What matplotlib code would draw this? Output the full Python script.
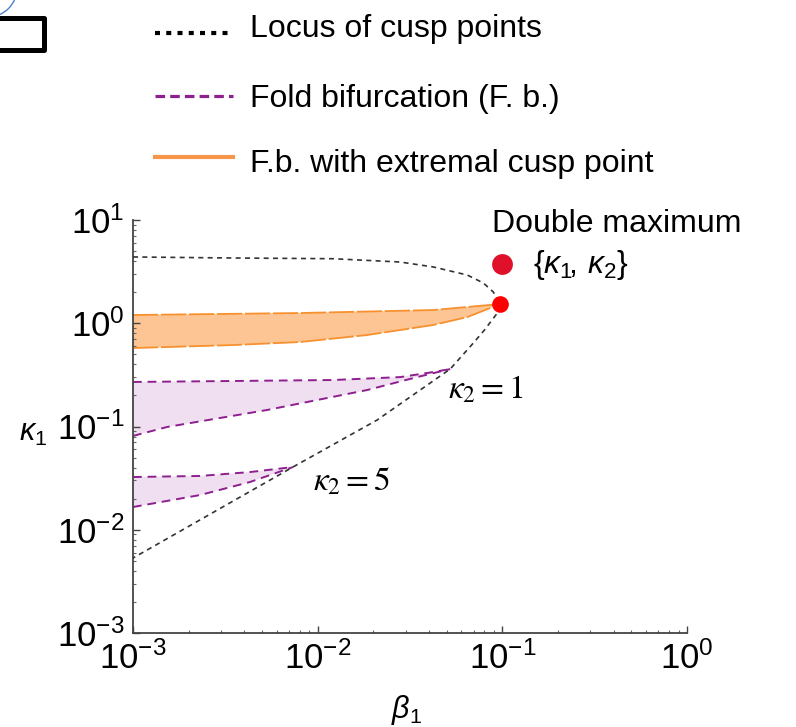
import numpy as np
import matplotlib
matplotlib.use("Agg")
import matplotlib.pyplot as plt
from matplotlib.lines import Line2D
from matplotlib.patches import Rectangle, Arc
from matplotlib.transforms import IdentityTransform
import matplotlib.ticker as mticker

plt.rcParams['font.family'] = ['Liberation Sans', 'DejaVu Sans']
plt.rcParams['mathtext.fontset'] = 'custom'
plt.rcParams['mathtext.rm'] = 'Liberation Sans'
plt.rcParams['mathtext.it'] = 'Liberation Sans:italic'
plt.rcParams['mathtext.bf'] = 'Liberation Sans:bold'

# ---------------- data ----------------
# locus of cusp points (upper branch -> tip -> lower branch)
locus_beta = [0.001, 0.00348, 0.01213, 0.0280, 0.0423, 0.0646, 0.0789, 0.0893,
              0.0975, 0.0940, 0.0800, 0.0697, 0.0522, 0.0210, 0.00736, 0.001]
locus_kappa = [4.385, 4.285, 4.217, 3.917, 3.508, 2.931, 2.455, 2.009,
               1.535, 1.256, 0.860, 0.644, 0.360, 0.1156, 0.0406, 0.00532]

# F.b. with extremal cusp point (orange band)
orange_up_beta = [0.001, 0.00804, 0.0423, 0.0975]
orange_up_kappa = [1.202, 1.256, 1.343, 1.535]
orange_lo_beta = [0.001, 0.00348, 0.00804, 0.01853, 0.0423, 0.0646, 0.0975]
orange_lo_kappa = [0.575, 0.615, 0.658, 0.769, 0.962, 1.148, 1.535]

# Fold bifurcation, kappa2 = 1
k1_up_beta = [0.001, 0.01213, 0.0280, 0.0423, 0.0522]
k1_up_kappa = [0.270, 0.282, 0.301, 0.337, 0.360]
k1_lo_beta = [0.001, 0.001528, 0.00532, 0.01853, 0.0346, 0.0522]
k1_lo_kappa = [0.081, 0.0989, 0.1445, 0.2255, 0.301, 0.360]

# Fold bifurcation, kappa2 = 5
k5_up_beta = [0.001, 0.00231, 0.0043, 0.00736]
k5_up_kappa = [0.0324, 0.0332, 0.0362, 0.0405]
k5_lo_beta = [0.001, 0.00231, 0.0043, 0.00736]
k5_lo_kappa = [0.0166, 0.0217, 0.0290, 0.0405]

# double maximum point
dm_beta = [0.0975]
dm_kappa = [1.535]

x_ticks = [1e-3, 1e-2, 1e-1, 1e0]
y_ticks = [1e-3, 1e-2, 1e-1, 1e0, 1e1]

# ---------------- figure ----------------
W, H = 796, 727
fig = plt.figure(figsize=(W / 100, H / 100), dpi=100)
ax = fig.add_axes([133 / W, 1 - 633 / H, (687 - 133) / W, (633 - 220) / H])
ax.set_xscale('log')
ax.set_yscale('log')
ax.set_xlim(1e-3, 1e0)
ax.set_ylim(1e-3, 1e1)

orange_fill = '#fdc593'
orange_line = '#f7912f'
purple_fill = '#efdff0'
purple_line = '#8e1f8e'


def fill_band(bu, ku, bl, kl, color):
    bx = np.concatenate([np.log10(bu), np.log10(bl)[::-1]])
    ky = np.concatenate([np.log10(ku), np.log10(kl)[::-1]])
    ax.fill(10 ** bx, 10 ** ky, color=color, lw=0, zorder=1)


fill_band(orange_up_beta, orange_up_kappa, orange_lo_beta, orange_lo_kappa, orange_fill)
fill_band(k1_up_beta, k1_up_kappa, k1_lo_beta, k1_lo_kappa, purple_fill)
fill_band(k5_up_beta, k5_up_kappa, k5_lo_beta, k5_lo_kappa, purple_fill)

for b, k in [(orange_up_beta, orange_up_kappa), (orange_lo_beta, orange_lo_kappa)]:
    ax.plot(b, k, color=orange_line, lw=1.3, dashes=(14, 1.5), zorder=2)
for b, k in [(k1_up_beta, k1_up_kappa), (k1_lo_beta, k1_lo_kappa),
             (k5_up_beta, k5_up_kappa), (k5_lo_beta, k5_lo_kappa)]:
    ax.plot(b, k, color=purple_line, lw=1.4, dashes=(4.5, 3), zorder=2)

ax.plot(locus_beta, locus_kappa, color='#333333', lw=1.2, dashes=(3, 2.6), zorder=3)
ax.plot(dm_beta, dm_kappa, 'o', color='#ff0000', ms=12, mec='none', zorder=4)

# annotations
ax.text(0.0509, 0.2255, r'$\kappa_2=1$', math_fontfamily='stix', fontsize=24,
        ha='left', va='center')
ax.text(0.00946, 0.029, r'$\kappa_2=5$', math_fontfamily='stix', fontsize=24,
        ha='left', va='center')

# axes styling
for s in ['top', 'right']:
    ax.spines[s].set_visible(False)
for s in ['left', 'bottom']:
    ax.spines[s].set_color('#444444')
    ax.spines[s].set_linewidth(1.3)
ax.set_xticks(x_ticks)
ax.set_yticks(y_ticks)
ax.xaxis.set_major_formatter(mticker.LogFormatterMathtext())
ax.yaxis.set_major_formatter(mticker.LogFormatterMathtext())
ax.xaxis.set_minor_locator(mticker.LogLocator(base=10, subs=np.arange(2, 10)))
ax.yaxis.set_minor_locator(mticker.LogLocator(base=10, subs=np.arange(2, 10)))
ax.xaxis.set_minor_formatter(mticker.NullFormatter())
ax.yaxis.set_minor_formatter(mticker.NullFormatter())
ax.tick_params(which='major', direction='in', length=5, width=1, color='#444444',
               labelsize=25, labelcolor='black')
ax.tick_params(which='minor', direction='in', length=2.5, width=0.8, color='#666666')
ax.tick_params(axis='y', which='major', pad=6)
ax.tick_params(axis='x', which='major', pad=6)

# axis labels
fig.text(33 / W, 1 - 433 / H, r'$\kappa_1$', fontsize=22, ha='center', va='center')
fig.text(407 / W, 1 - 710 / H, r'$\beta_1$', fontsize=22, ha='center', va='center')

# ---------------- legend (manual) ----------------
def fy(y):
    return 1 - y / H


fig.add_artist(Line2D([155 / W, 233 / W], [fy(33), fy(33)], color='black', lw=3.0,
                      linestyle=(0, (1.2, 1.5)), dash_capstyle='butt'))
fig.text(250 / W, fy(37), 'Locus of cusp points', fontsize=23, va='baseline')
fig.add_artist(Line2D([155 / W, 233 / W], [fy(96), fy(96)], color=purple_line, lw=2.3,
                      linestyle=(0, (3.0, 1.6)), dash_capstyle='butt'))
fig.text(250 / W, fy(107), 'Fold bifurcation (F. b.)', fontsize=23, va='baseline')
fig.add_artist(Line2D([155 / W, 233 / W], [fy(157), fy(157)], color='#f5964a', lw=3.0))
fig.text(250 / W, fy(172), 'F.b. with extremal cusp point', fontsize=23, va='baseline')

fig.text(492 / W, fy(232), 'Double maximum', fontsize=23, va='baseline')
fig.add_artist(Line2D([502 / W], [fy(264)], marker='o', ms=15, color='#e0102a', mec='none'))
fig.text(533 / W, fy(265), r'$\{\kappa_{\mathit{1}}\!,\,\kappa_{\mathit{2}}\}$',
         fontsize=23, va='center')

# cropped decorations in the top-left corner
rect = Rectangle((-20, H - 50), 63.5, 32.5, transform=IdentityTransform(),
                 fill=False, edgecolor='black', lw=3.6, joinstyle='round')
fig.add_artist(rect)
arc = Arc((-12, H + 12), 58, 58, theta1=270, theta2=360, transform=IdentityTransform(),
          color='#4f7fd0', lw=1.0)
fig.add_artist(arc)

fig.savefig('out.png', dpi=100)
